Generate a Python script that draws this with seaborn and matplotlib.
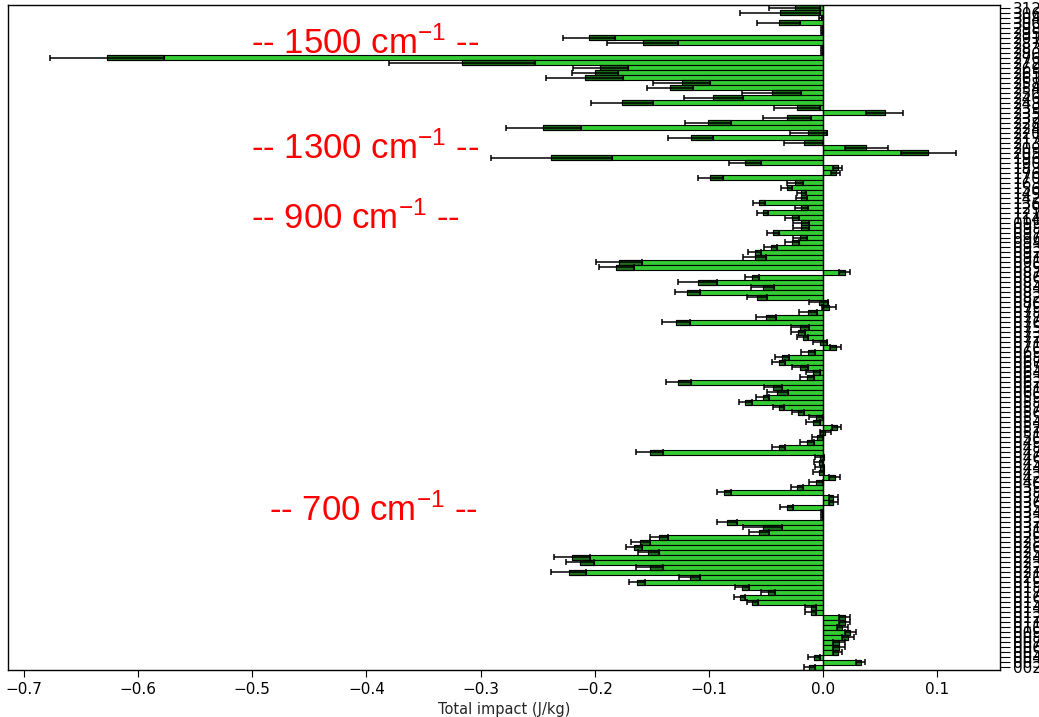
import numpy as np
import pandas as pd
import matplotlib
matplotlib.use("Agg")
import matplotlib.pyplot as plt
import seaborn as sns

# ---------------- data (top to bottom) ----------------
channels_3xx = [312, 306, 304, 300]
channels_2xx = [298, 295, 291, 287, 283, 280, 276, 272, 269, 265, 261, 258, 254,
                250, 246, 243, 239, 235, 232, 228, 224, 220, 217, 213, 209, 205]
channels_1xx = [196, 190, 183, 176, 170, 163, 156, 149, 142, 136, 129, 121, 114]
channels_0xx = [99, 98, 97, 96, 94, 93, 92, 91, 90, 89, 87, 86, 85, 84, 83, 82,
                80, 79, 78, 77, 76, 75, 73, 72, 71, 70, 69, 68, 67, 65, 64, 63,
                62, 61, 60, 59, 58, 57, 56, 55, 54, 52, 51, 50, 49, 48, 47, 46,
                45, 44, 43, 42, 40, 39, 38, 37, 36, 35, 34, 33, 32, 31, 30, 29,
                28, 26, 25, 24, 23, 22, 21, 20, 19, 18, 17, 16, 15, 14, 13, 12,
                11, 10, 9, 8, 7, 6, 5, 4, 3, 2]
channels = channels_3xx + channels_2xx + channels_1xx + channels_0xx
channel_labels = [f"{c:03d}" for c in channels]

impact = [-0.025, -0.038, -0.002, -0.039, -0.001, -0.001, -0.205, -0.158, -0.001, -0.001,
          -0.627, -0.316, -0.195, -0.200, -0.209, -0.124, -0.134, -0.045, -0.096, -0.176,
          -0.023, 0.054, -0.032, -0.101, -0.245, -0.013, -0.116, -0.017, 0.038, 0.092,
          -0.238, -0.068, 0.013, 0.011, -0.099, -0.025, -0.032, -0.019, -0.019, -0.056,
          -0.019, -0.053, -0.027, -0.019, -0.019, -0.044, -0.020, -0.027, -0.046, -0.060,
          -0.060, -0.179, -0.181, 0.019, -0.062, -0.110, -0.053, -0.119, -0.058, -0.004,
          0.005, -0.013, -0.050, -0.129, -0.020, -0.022, -0.018, -0.003, 0.011, -0.013,
          -0.036, -0.039, -0.020, -0.009, -0.014, -0.127, -0.044, -0.040, -0.053, -0.068,
          -0.039, -0.022, -0.006, -0.009, 0.012, 0.002, -0.005, -0.014, -0.039, -0.152,
          -0.003, -0.004, -0.003, -0.004, 0.010, -0.006, -0.023, -0.087, 0.009, 0.009,
          -0.032, -0.001, -0.001, -0.084, -0.053, -0.056, -0.144, -0.160, -0.166, -0.153,
          -0.220, -0.213, -0.152, -0.223, -0.117, -0.163, -0.071, -0.048, -0.073, -0.062,
          -0.011, -0.011, 0.019, 0.019, 0.017, 0.024, 0.022, 0.014, 0.014, 0.013,
          -0.008, 0.033, -0.012]

error = [0.022, 0.035, 0.002, 0.019, 0.001, 0.001, 0.023, 0.031, 0.001, 0.001,
         0.050, 0.064, 0.024, 0.020, 0.034, 0.025, 0.020, 0.026, 0.026, 0.027,
         0.020, 0.016, 0.021, 0.020, 0.033, 0.016, 0.020, 0.017, 0.019, 0.024,
         0.053, 0.014, 0.004, 0.004, 0.011, 0.007, 0.005, 0.004, 0.005, 0.005,
         0.006, 0.005, 0.006, 0.007, 0.007, 0.005, 0.006, 0.006, 0.006, 0.006,
         0.010, 0.020, 0.015, 0.005, 0.006, 0.017, 0.010, 0.011, 0.009, 0.008,
         0.006, 0.008, 0.009, 0.012, 0.008, 0.006, 0.005, 0.006, 0.005, 0.006,
         0.006, 0.006, 0.007, 0.006, 0.006, 0.011, 0.008, 0.009, 0.006, 0.006,
         0.005, 0.005, 0.006, 0.006, 0.004, 0.005, 0.005, 0.006, 0.006, 0.012,
         0.004, 0.004, 0.004, 0.005, 0.005, 0.006, 0.005, 0.006, 0.004, 0.004,
         0.006, 0.001, 0.001, 0.009, 0.017, 0.009, 0.008, 0.008, 0.007, 0.009,
         0.016, 0.012, 0.012, 0.015, 0.009, 0.007, 0.006, 0.006, 0.005, 0.005,
         0.005, 0.005, 0.005, 0.005, 0.005, 0.005, 0.005, 0.005, 0.005, 0.004,
         0.005, 0.004, 0.005]

band_labels = ["-- 1500 cm$^{-1}$ --", "-- 1300 cm$^{-1}$ --",
               "-- 900 cm$^{-1}$ --", "-- 700 cm$^{-1}$ --"]
band_x = [-0.401, -0.401, -0.410, -0.394]
band_row = [7.2, 28.3, 42.3, 100.6]

xticks = [-0.7, -0.6, -0.5, -0.4, -0.3, -0.2, -0.1, 0.0, 0.1]

# ---------------- plot ----------------
sns.set_style("ticks")
plt.rcParams['font.family'] = ['DejaVu Sans']
plt.rcParams['mathtext.fontset'] = 'custom'
plt.rcParams['mathtext.rm'] = 'Liberation Sans'
plt.rcParams['mathtext.it'] = 'Liberation Sans'
plt.rcParams['axes.edgecolor'] = 'black'
plt.rcParams['xtick.color'] = 'black'
plt.rcParams['ytick.color'] = 'black'

fig = plt.figure(figsize=(10.39, 7.17), dpi=100)
ax = fig.add_axes([0.0077, 0.0656, 0.9548, 0.9274])

df = pd.DataFrame({"channel": channel_labels, "impact": impact, "error": error})
sns.barplot(data=df, x="impact", y="channel", orient="h", color="#33cc33",
            saturation=1, edgecolor="black", linewidth=0.8, width=0.92,
            errorbar=None, ax=ax)

v = df["impact"].to_numpy()
e = df["error"].to_numpy()
pos = np.arange(len(df))
box_left = np.where(v > 0, v - e, v)
ax.barh(pos, e, left=box_left, height=0.92, color="#1b701b",
        edgecolor="black", linewidth=0.8, zorder=3)
ax.errorbar(v, pos, xerr=e, fmt="none", ecolor="black", elinewidth=1.1,
            capsize=2.5, capthick=1.1, zorder=4)
ax.axvline(0, color="black", lw=1.0, zorder=5)

for txt, bx, by in zip(band_labels, band_x, band_row):
    ax.text(bx, by, txt, color="red", fontsize=25, ha="center", va="center",
            family="Liberation Sans", zorder=6)

ax.set_xlim(-0.714, 0.155)
ax.set_ylim(len(df) - 0.5, -0.5)
ax.set_xticks(xticks)
ax.set_xticklabels([f"{t:.1f}".replace("-", "\u2212") for t in xticks])
ax.yaxis.tick_right()
ax.tick_params(axis="y", length=7, width=0.8, labelsize=11, pad=2)
ax.tick_params(axis="x", length=5, width=0.8, labelsize=11)
ax.set_ylabel("")
ax.set_xlabel("Total impact (J/kg)", fontsize=10.5)
for s in ax.spines.values():
    s.set_visible(True)
    s.set_linewidth(1.0)

fig.savefig("out.png", dpi=100)
